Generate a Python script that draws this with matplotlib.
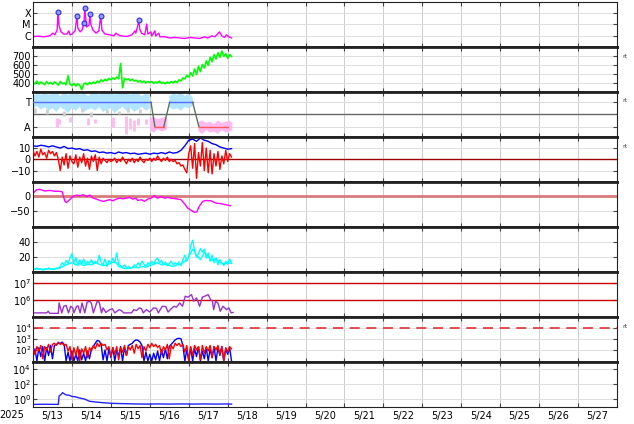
import numpy as np
import matplotlib
matplotlib.use('Agg')
import matplotlib.pyplot as plt
from matplotlib.ticker import NullLocator

plt.rcParams['font.family'] = 'DejaVu Sans'
plt.rcParams['mathtext.fontset'] = 'dejavusans'

# time is in days since 2025-05-13 00:00
day_labels = ['5/13', '5/14', '5/15', '5/16', '5/17', '5/18', '5/19', '5/20',
              '5/21', '5/22', '5/23', '5/24', '5/25', '5/26', '5/27']
year_label = '2025'

# --- X-ray flux (W/m2)
xray_t = [0.00, 0.13, 0.28, 0.44, 0.51, 0.56, 0.62, 0.64, 0.67, 0.72, 0.79, 0.87, 0.92, 0.95,
          1.00, 1.08, 1.13, 1.15, 1.21, 1.26, 1.31, 1.33, 1.36, 1.38, 1.44, 1.46, 1.49, 1.54,
          1.62, 1.69, 1.74, 1.77, 1.85, 1.97, 2.08, 2.13, 2.18, 2.28, 2.41, 2.54, 2.62, 2.64,
          2.67, 2.72, 2.74, 2.79, 2.87, 2.92, 2.95, 3.03, 3.05, 3.13, 3.15, 3.23, 3.26, 3.38,
          3.51, 3.64, 3.77, 3.90, 4.03, 4.15, 4.28, 4.41, 4.49, 4.59, 4.67, 4.74, 4.79, 4.85,
          4.92, 4.97, 5.03, 5.10]
xray_f = [8.5e-7, 9e-7, 8e-7, 1.0e-6, 1.7e-6, 1.2e-6, 3.2e-6, 1.3e-4, 7.3e-6, 2.2e-6, 1.4e-6,
          1.4e-6, 2.7e-6, 1.2e-6, 1.4e-6, 2.7e-6, 5.7e-5, 4.9e-6, 2.2e-6, 3.2e-6, 1.4e-5,
          2.9e-4, 1.7e-5, 6e-6, 9e-6, 8.5e-5, 9e-6, 3.2e-6, 1.7e-6, 2.7e-6, 5.7e-5, 3.2e-6,
          1.4e-6, 1.2e-6, 1.0e-6, 1.7e-6, 1.2e-6, 9.5e-7, 8.5e-7, 1.2e-6, 2.7e-6, 1.7e-6,
          4e-6, 2.5e-5, 4e-6, 1.7e-6, 1.2e-6, 1.1e-5, 1.4e-6, 2.2e-6, 9.5e-7, 2.7e-6, 9.5e-7,
          1.7e-6, 8e-7, 8e-7, 6.3e-7, 7e-7, 6.3e-7, 5.7e-7, 7e-7, 6.3e-7, 5.7e-7, 8e-7,
          6.3e-7, 9.5e-7, 8e-7, 1.4e-6, 2.2e-6, 9.5e-7, 7e-7, 1.2e-6, 8e-7, 6.3e-7]
flare_t = [0.64, 1.13, 1.33, 1.31, 1.46, 1.74, 2.72]
flare_f = [1.3e-4, 5.7e-5, 2.9e-4, 1.4e-5, 8.5e-5, 5.7e-5, 2.5e-5]

# --- series sampled every 0.05 day
t05 = np.arange(103) * 0.05
speed = [410, 395, 425, 390, 415, 400, 385, 420, 395, 410, 390,
         415, 400, 380, 420, 395, 405, 385, 485, 390, 375,
         400, 370, 395, 380, 330, 390, 405, 385, 410, 395,
         415, 400, 425, 410, 440, 420, 445, 430, 455, 440,
         460, 445, 470, 450, 620, 350, 455, 440, 450, 430,
         445, 425, 435, 415, 430, 410, 425, 405, 420, 410,
         420, 400, 415, 405, 425, 400, 410, 395, 415, 400,
         420, 405, 425, 410, 440, 425, 460, 450, 490, 470,
         520, 480, 560, 500, 590, 530, 610, 570, 650, 600,
         690, 640, 720, 670, 740, 690, 760, 700, 730, 680,
         720, 700]
bz = [8, 3, 7, 2, 9, 4, 6, 1, 8, 5, 7,
      3, 6, 0, -10, 2, -5, 5, -8, 3, -2,
      -4, 4, -7, 2, -3, 5, -6, 1, -9, 3,
      -2, 4, -10, 2, -4, 1, -1, -3, 0, -2,
      -1, 1, -3, 0, -2, 2, -1, -4, 0, -2,
      1, -3, 0, -2, 2, -1, -3, 0, -1, 1,
      -2, 1, -1, 3, 0, -2, 1, -1, 2, -2,
      0, -2, -1, -4, -3, -6, -5, -9, -12, 5,
      12, -8, 14, -17, 6, -6, 15, -10, 10, -12,
      8, -13, 5, -6, 7, -9, 3, -4, 8, -2,
      5, 2]
density = [4, 3, 5, 3, 4, 2, 4, 3, 5, 3, 4,
           3, 5, 4, 7, 12, 9, 15, 11, 18, 24,
           12, 19, 8, 16, 10, 17, 9, 14, 11, 16,
           10, 14, 12, 22, 13, 9, 17, 7, 15, 11,
           18, 12, 25, 10, 8, 6, 9, 5, 7, 4,
           6, 9, 7, 12, 8, 14, 10, 7, 12, 9,
           14, 10, 16, 18, 12, 15, 9, 13, 8, 11,
           14, 9, 12, 10, 13, 8, 16, 22, 14, 20,
           35, 42, 28, 19, 24, 31, 26, 30, 18, 25,
           14, 22, 12, 18, 9, 16, 12, 8, 14, 10,
           17, 12]
# log10 of the two particle channels in panel 8
e_red_log = [2.2, 1.6, 2.3, 1.9, 2.4, 1.2, 2.3, 2.0, 2.5, 1.8, 2.5,
             2.6, 2.4, 2.7, 2.5, 2.6, 2.4, 2.5, 1.9, 2.3, 1.1,
             2.2, 1.5, 2.3, 1.0, 2.1, 1.7, 2.3, 1.3, 2.2, 1.9,
             2.4, 2.1, 2.6, 2.3, 2.6, 2.4, 2.5, 2.0, 2.3, 1.4,
             2.2, 1.6, 2.3, 1.1, 2.2, 1.8, 2.4, 1.5, 2.3, 2.0,
             2.4, 1.7, 2.5, 2.1, 2.4, 1.3, 2.3, 1.9, 2.5, 2.2,
             2.6, 2.3, 2.5, 2.2, 2.4, 1.6, 2.3, 2.0, 2.5, 1.2,
             2.4, 2.1, 2.6, 2.4, 2.6, 2.3, 2.5, 1.8, 2.4, 1.0,
             2.3, 1.5, 2.4, 2.0, 2.3, 1.1, 2.4, 1.7, 2.3, 1.9,
             2.4, 1.3, 2.3, 2.0, 2.4, 1.6, 2.3, 1.0, 2.2, 1.8,
             2.3, 2.1]
e_blue_log = [1.3, 2.1, 1.0, 2.2, 1.4, 2.3, 1.0, 2.2, 1.5, 2.4, 1.2,
              2.4, 2.5, 2.6, 2.6, 2.7, 2.5, 1.0, 1.8, 1.0, 1.9,
              1.0, 1.6, 1.0, 2.0, 1.1, 1.7, 1.0, 1.9, 1.2, 2.1,
              2.3, 2.6, 2.85, 2.8, 2.5, 1.1, 2.0, 1.0, 2.1, 1.3,
              2.2, 1.0, 2.0, 1.4, 2.3, 1.0, 2.2, 1.5, 2.4, 2.5,
              2.6, 2.8, 2.9, 2.85, 2.7, 2.4, 1.0, 1.8, 1.0, 1.6,
              1.0, 1.7, 1.1, 1.9, 1.0, 2.0, 1.3, 2.1, 1.2, 2.3,
              2.5, 2.7, 2.9, 3.0, 3.05, 3.0, 2.4, 1.0, 2.0, 1.1,
              2.2, 1.0, 2.1, 1.4, 2.3, 1.0, 1.9, 1.2, 2.2, 1.0,
              2.1, 1.3, 2.3, 1.0, 2.2, 1.5, 2.3, 1.0, 2.1, 1.6,
              2.2, 1.0]

# --- series sampled every 0.1 day
t10 = np.arange(52) * 0.1
bt = [12, 11.5, 12.5, 12, 11, 12, 11, 10, 11.5, 9.5,
      10, 9, 9.5, 8, 8.5, 7, 7.5, 6, 6.5, 5.5,
      6, 5, 6.5, 5.5, 6, 5, 5.5, 4.5, 5, 5.5,
      4.5, 5.5, 5, 6, 5, 6.5, 5.5, 6, 8, 12,
      17, 18, 16, 19, 17, 16, 14, 13, 11, 10,
      9, 9.5]
density2 = [3, 4, 3, 3, 4, 3, 4, 5, 8, 10,
            12, 9, 11, 8, 10, 9, 12, 10, 8, 9,
            11, 14, 7, 5, 4, 5, 6, 5, 7, 6,
            8, 10, 12, 9, 10, 8, 7, 9, 10, 14,
            20, 30, 22, 16, 26, 20, 15, 18, 12, 10,
            12, 11]

# --- IMF sector (T = +1, A = -1)
sector_t = [0.0, 3.03, 3.13, 3.36, 3.51, 4.10, 4.26, 5.0]
sector_v = [1, 1, -1, -1, 1, 1, -1, -1]
tcloud_t = np.arange(42) * 0.1
nan = np.nan
tcloud_hi = [1.5, 1.7, 1.6, 1.8, 1.6, 1.7, 1.8, 1.5, 1.8, 1.6,
             1.7, 1.8, 1.6, 1.8, 1.5, 1.7, 1.8, 1.6, 1.8, 1.7,
             1.8, 1.6, 1.8, 1.7, 1.8, 1.6, 1.8, 1.7, 1.5, 1.7,
             1.6, nan, nan, nan, nan, 1.5, 1.7, 1.6, 1.8, 1.5, 1.7, 1.4]
tcloud_lo = [0.5, 0.7, 0.4, 0.6, 0.3, 0.5, 0.2, 0.6, 0.4, 0.1,
             0.5, 0.3, 0.6, 0.2, 0.4, 0.5, 0.3, 0.6, 0.2, 0.4,
             0.5, 0.1, 0.4, 0.6, 0.3, 0.5, 0.2, 0.4, 0.6, 0.3,
             0.5, nan, nan, nan, nan, 0.6, 0.4, 0.5, 0.3, 0.6, 0.5, 0.7]
gray_t = [0.05, 0.35, 0.8, 1.25, 1.5, 1.9, 2.2, 2.45, 2.75]
gray_hi = [0.5, 0.4, 0.3, 0.5, 0.2, 0.4, 0.3, 0.5, 0.4]
gray_lo = [0.1, 0.0, -0.1, 0.2, -0.2, 0.1, 0.0, 0.2, 0.1]
pink_t = [0.62, 0.68, 0.95, 1.42, 1.6, 2.05, 2.4, 2.48, 2.6, 2.7, 2.9]
pink_hi = [-0.3, -0.4, -0.2, -0.3, -0.4, -0.2, -0.1, -0.3, -0.5, -0.3, -0.4]
pink_lo = [-1.0, -0.8, -0.6, -0.9, -0.7, -1.0, -1.6, -1.2, -1.4, -0.9, -0.8]
pinkband_t = [3.0, 3.1, 3.2, 3.3, 3.4, 3.45, nan, 4.25, 4.35, 4.45, 4.55, 4.65, 4.75, 4.85, 4.95, 5.05, 5.12]
pinkband_hi = [-0.3, -0.2, -0.4, -0.3, -0.2, -0.4, nan, -0.6, -0.5, -0.7, -0.6, -0.8, -0.5, -0.7, -0.6, -0.5, -0.7]
pinkband_lo = [-1.3, -1.5, -1.2, -1.4, -1.3, -1.2, nan, -1.4, -1.6, -1.3, -1.5, -1.4, -1.6, -1.3, -1.5, -1.4, -1.3]

# --- Dst (nT)
dst_t = [0.0, 0.09, 0.17, 0.3, 0.43, 0.56, 0.68, 0.75, 0.82, 0.86, 0.94, 1.03, 1.12, 1.2,
         1.29, 1.38, 1.46, 1.55, 1.63, 1.72, 1.8, 1.89, 1.97, 2.05, 2.14, 2.23, 2.31, 2.4,
         2.48, 2.56, 2.65, 2.69, 2.78, 2.86, 2.95, 3.03, 3.12, 3.2, 3.29, 3.38, 3.46, 3.55,
         3.68, 3.8, 3.89, 3.97, 4.06, 4.15, 4.21, 4.27, 4.36, 4.44, 4.57, 4.7, 4.83, 4.96, 5.07]
dst_v = [11, 23, 25, 19, 21, 18, 18, 16, -17, -21, -11, 0, 5, 2,
         6, 0, 5, -6, -9, -14, -17, -14, -11, -15, -9, -6, -8, -6,
         -3, -9, -6, -14, -11, -17, -9, -6, 3, -6, 0, -6, -3, -6,
         -8, -11, -25, -40, -48, -55, -53, -34, -17, -14, -15, -23, -25, -29, -32]

# --- high-energy flux (purple)
pflux_t = [0.01, 0.35, 0.39, 0.43, 0.65, 0.67, 0.74, 0.79, 0.85, 0.91, 0.97, 1.02, 1.05,
           1.12, 1.16, 1.21, 1.26, 1.33, 1.39, 1.46, 1.5, 1.55, 1.65, 1.7, 1.76, 1.8,
           1.87, 1.97, 2.04, 2.1, 2.21, 2.27, 2.33, 2.53, 2.59, 2.66, 2.73, 2.79, 2.83,
           2.91, 3.0, 3.1, 3.17, 3.22, 3.32, 3.41, 3.47, 3.56, 3.62, 3.68, 3.77, 3.84,
           3.91, 3.98, 4.07, 4.13, 4.2, 4.28, 4.35, 4.41, 4.5, 4.56, 4.61, 4.64, 4.69,
           4.75, 4.81, 4.88, 4.97, 5.03, 5.09, 5.14]
pflux_v = [1.6e5, 1.6e5, 2e5, 1.5e5, 1.5e5, 6.3e5, 1.6e5, 4e5, 4.5e5, 1.6e5, 4e5, 3.2e5, 1.6e5,
           4e5, 4.2e5, 1.6e5, 6.3e5, 1.6e5, 7e5, 8e5, 6e5, 1.6e5, 8e5, 7e5, 1.6e5, 3.2e5,
           1.7e5, 2.5e5, 2.8e5, 1.6e5, 2.5e5, 2.2e5, 1.6e5, 1.6e5, 2.5e5, 2.2e5, 3.2e5, 2.8e5, 1.6e5,
           2.5e5, 1.8e5, 3.2e5, 3e5, 1.6e5, 4e5, 3.8e5, 1.8e5, 3e5, 4e5, 3.5e5, 6.3e5, 4e5,
           1.6e6, 1.4e6, 2e6, 8e5, 1.26e6, 4e5, 1.4e6, 1.6e6, 2e6, 1e6, 8e5, 2.5e5, 8e5,
           6.3e5, 2e5, 4e5, 2.5e5, 3.2e5, 1.6e5, 1.7e5]

# --- bottom panel flux (blue)
low_t = [0.0, 0.3, 0.65, 0.67, 0.72, 0.76, 0.8, 0.85, 0.93, 1.0, 1.08, 1.2, 1.32, 1.45,
         1.6, 1.8, 2.05, 2.3, 2.6, 2.9, 3.2, 3.5, 3.8, 4.1, 4.4, 4.7, 5.0, 5.1]
low_v = [0.19, 0.2, 0.19, 2.5, 4.0, 7.0, 5.0, 3.5, 3.2, 2.2, 2.0, 1.35, 1.0, 0.5,
         0.4, 0.32, 0.26, 0.24, 0.22, 0.21, 0.22, 0.21, 0.22, 0.21, 0.22, 0.21, 0.22, 0.21]

fig = plt.figure(figsize=(6.34, 4.24), dpi=100)
axes = fig.subplots(9, 1, sharex=True, gridspec_kw=dict(
    hspace=0, left=33 / 634, right=617 / 634, top=1 - 2 / 424, bottom=1 - 406.5 / 424))

for i, ax in enumerate(axes):
    ax.set_axisbelow(True)
    ax.set_xlim(0, 15)
    ax.set_xticks(range(1, 15))
    ax.set_xticks(np.arange(0.5, 15, 1), minor=True)
    ax.grid(axis='x', which='major', color='#cccccc', lw=0.7)
    ax.grid(axis='y', which='major', color='#dddddd', lw=0.7)
    ax.tick_params(which='major', direction='in', length=3, top=True, right=True,
                   labelsize=7, pad=1.5, color='#444')
    ax.tick_params(axis='x', which='minor', length=0)
    for s in ax.spines.values():
        s.set_color('#222')
        s.set_linewidth(0.8)
    if i > 0:
        ax.spines['top'].set_linewidth(2)
    if i < 8:
        ax.spines['bottom'].set_linewidth(2)

# 1 x-ray
ax = axes[0]
ax.set_yscale('log')
ax.plot(xray_t, xray_f, color='#ff00ff', lw=1)
ax.plot(flare_t, flare_f, 'o', ms=3.5, mfc='#9a9aff', mec='#2a2aee', mew=0.8)
ax.set_ylim(1e-7, 1e-3)
ax.set_yticks([1e-6, 1e-5, 1e-4], labels=['C', 'M', 'X'])
ax.yaxis.set_minor_locator(NullLocator())

# 2 solar wind speed
ax = axes[1]
ax.plot(t05, speed, color='#00ff00', lw=1.2)
ax.set_ylim(305, 805)
ax.set_yticks([400, 500, 600, 700])

# 3 sector
ax = axes[2]
ax.axhline(0, color='#666666', lw=1, zorder=1)
ax.fill_between(tcloud_t, tcloud_lo, tcloud_hi, color='#b0e4ff', lw=0, zorder=2)
ax.vlines(gray_t, gray_lo, gray_hi, color='#cfcfcf', lw=2, zorder=2)
ax.vlines(pink_t, pink_lo, pink_hi, color='#ffb8f0', lw=2, zorder=2)
ax.fill_between(pinkband_t, pinkband_lo, pinkband_hi, color='#ffb8f0', lw=0, zorder=2)
for k in range(len(sector_t) - 1):
    v0, v1 = sector_v[k], sector_v[k + 1]
    if v0 != v1:
        c = '#557755'
    elif v0 > 0:
        c = '#5a6cff'
    else:
        c = '#ff5a5a'
    ax.plot(sector_t[k:k + 2], sector_v[k:k + 2], color=c, lw=1, zorder=3)
ax.set_ylim(-1.84, 1.84)
ax.set_yticks([1, -1], labels=['T', 'A'])

# 4 magnetic field
ax = axes[3]
ax.axhline(0, color='#990000', lw=1, zorder=1)
ax.plot(t10, bt, color='#0000ff', lw=1, zorder=2)
ax.plot(t05, bz, color='#ff0000', lw=1, zorder=3)
ax.set_ylim(-20, 20)
ax.set_yticks([10, 0, -10])

# 5 Dst
ax = axes[4]
ax.axhline(0, color='#d67a7a', lw=2, zorder=1)
ax.plot(dst_t, dst_v, color='#ff00ff', lw=1, zorder=2)
ax.set_ylim(-105, 51)
ax.set_yticks([0, -50])

# 6 density
ax = axes[5]
ax.plot(t10, density2, color='#00ffff', lw=1)
ax.plot(t05, density, color='#00ffff', lw=1)
ax.set_ylim(0, 60)
ax.set_yticks([20, 40])

# 7 purple flux
ax = axes[6]
ax.set_yscale('log')
ax.axhline(1e7, color='#cc0000', lw=1, zorder=1)
ax.axhline(1e6, color='#cc0000', lw=1, zorder=1)
ax.plot(pflux_t, pflux_v, color='#9933cc', lw=1, zorder=2)
ax.set_ylim(10 ** 4.98, 10 ** 7.68)
ax.set_yticks([1e6, 1e7], labels=['$10^6$', '$10^7$'])
ax.yaxis.set_minor_locator(NullLocator())

# 8 blue / red flux
ax = axes[7]
ax.set_yscale('log')
ax.axhline(1e4, color='#dd3333', lw=1.2, ls=(0, (6, 4)), zorder=1)
ax.plot(t05, 10.0 ** np.array(e_blue_log), color='#0000ff', lw=1, zorder=2)
ax.plot(t05, 10.0 ** np.array(e_red_log), color='#ff0000', lw=1, zorder=3)
ax.set_ylim(10 ** 0.95, 10 ** 5.0)
ax.set_yticks([1e2, 1e3, 1e4], labels=['$10^2$', '$10^3$', '$10^4$'])
ax.tick_params(axis='y', labelsize=6.3, pad=1)
ax.yaxis.set_minor_locator(NullLocator())

# 9 low flux
ax = axes[8]
ax.set_yscale('log')
ax.plot(low_t, low_v, color='#2222ff', lw=1)
ax.set_ylim(1e-1, 1e5)
ax.set_yticks([1e0, 1e2, 1e4], labels=['$10^0$', '$10^2$', '$10^4$'])
ax.yaxis.set_minor_locator(NullLocator())
ax.set_xticks(np.arange(0.5, 15, 1), labels=day_labels, minor=True)
ax.tick_params(axis='x', which='minor', labelsize=7, pad=3)
ax.tick_params(axis='x', which='major', labelbottom=False)
ax.text(-0.55, -0.2, year_label, transform=ax.get_xaxis_transform(),
        ha='center', va='center', fontsize=7, clip_on=False)

for y in [56, 101, 147, 327]:
    fig.text(622 / 634, 1 - y / 424, 'rt', fontsize=4.5, color='#444', va='center')

fig.savefig('out.png', dpi=100)
